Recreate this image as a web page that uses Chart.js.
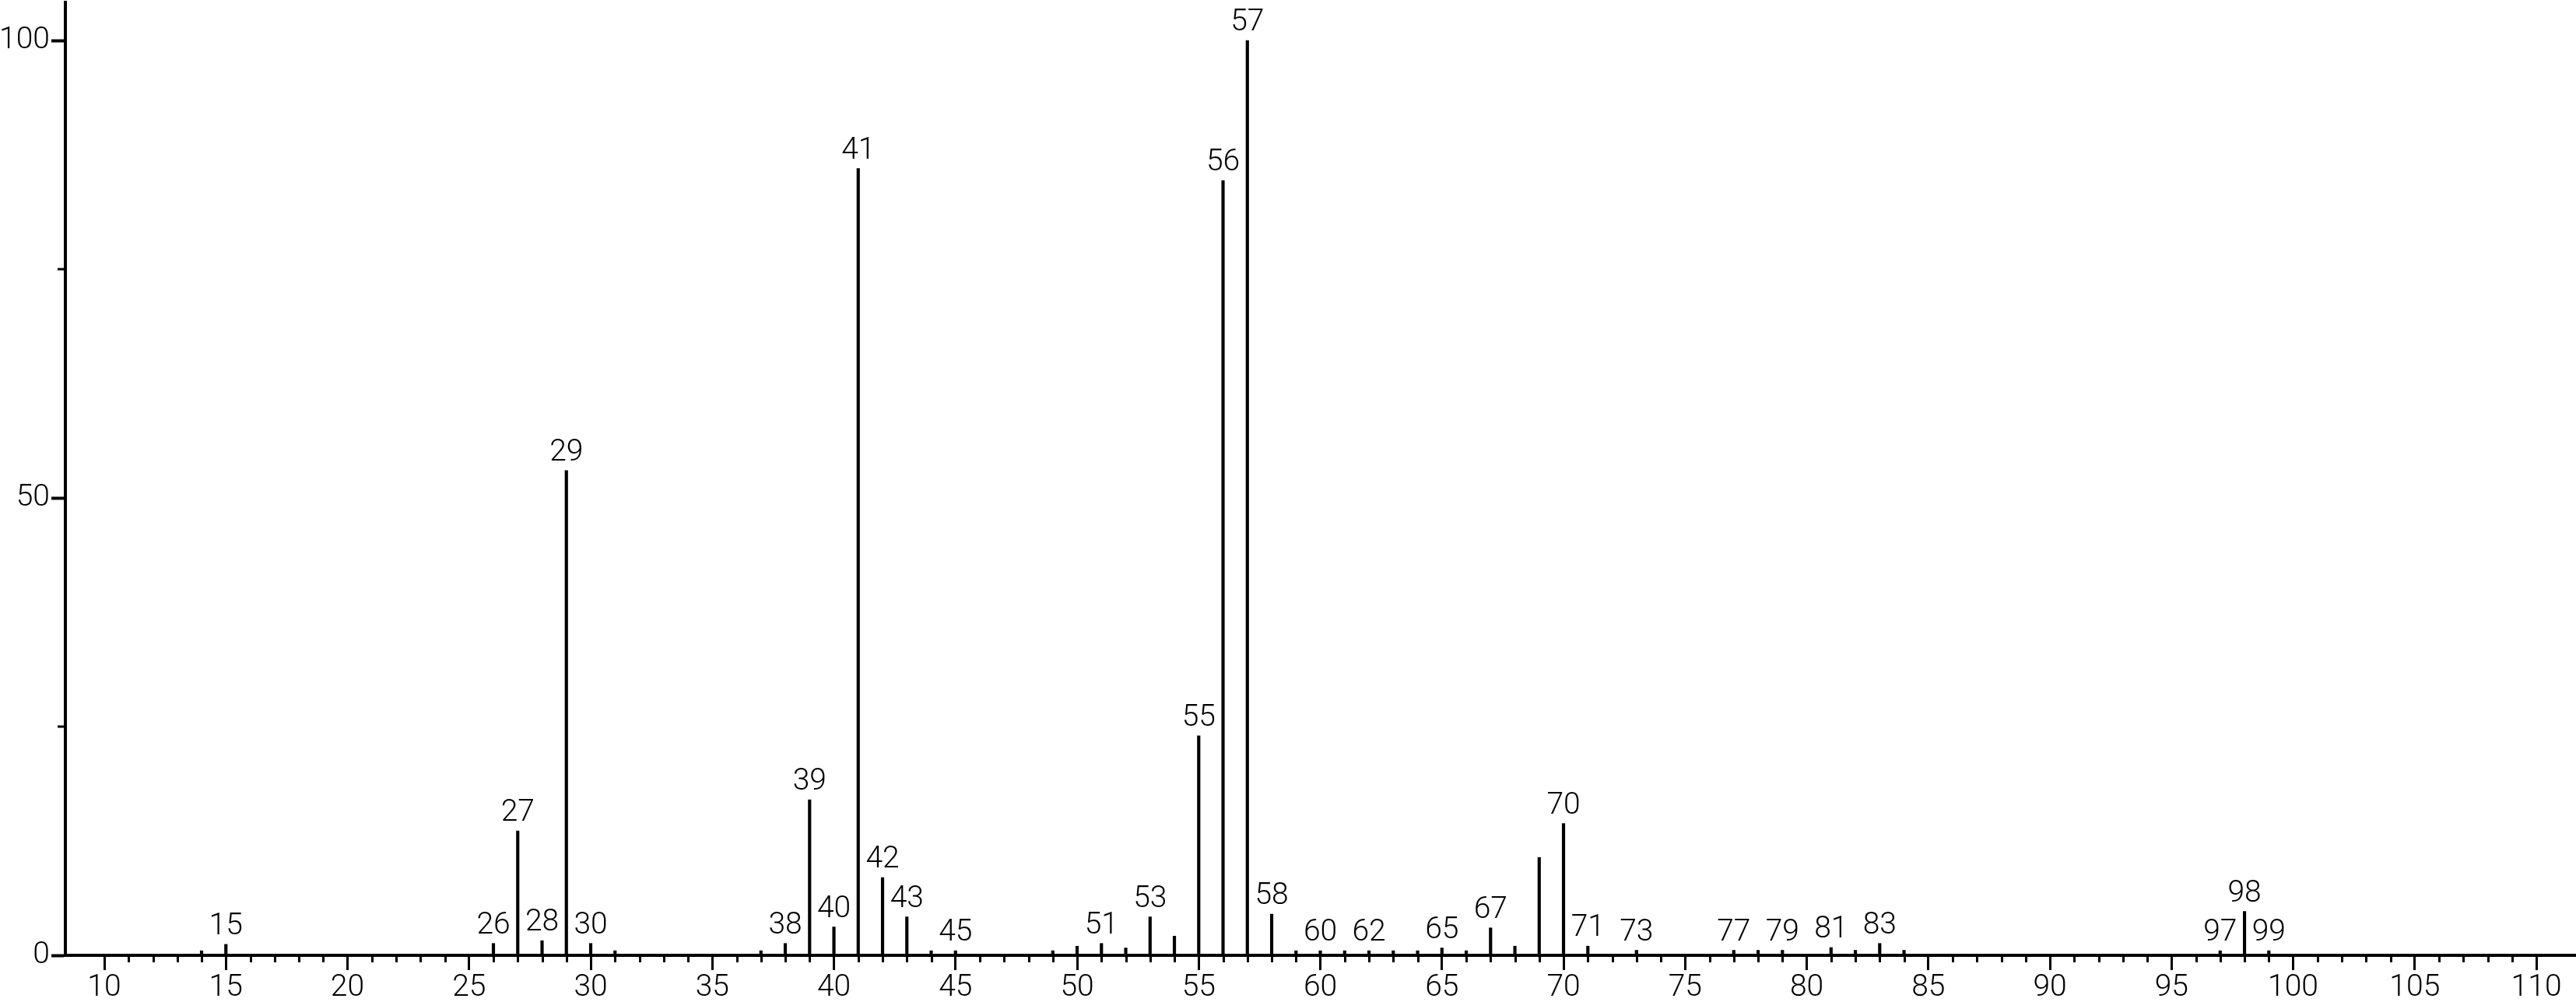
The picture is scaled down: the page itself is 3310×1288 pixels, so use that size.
<!DOCTYPE html>
<html>
<head>
<meta charset="utf-8">
<script src="https://cdn.jsdelivr.net/npm/chart.js@4/dist/chart.umd.min.js"></script>
<style>
  html, body { margin: 0; padding: 0; background: #fff; }
</style>
</head>
<body>
<canvas id="spectrum" width="3310" height="1288"></canvas>
<script>
// m/z positions and relative intensities
const mz = [14, 15, 26, 27, 28, 29, 30, 31, 37, 38, 39, 40, 41, 42, 43, 44, 45,
  49, 50, 51, 52, 53, 54, 55, 56, 57, 58, 59, 60, 61, 62, 63, 64, 65, 66, 67,
  68, 69, 70, 71, 73, 77, 78, 79, 81, 82, 83, 84, 97, 98, 99];
const intensity = [0.5, 1.2, 1.3, 13.6, 1.6, 53.0, 1.3, 0.5, 0.5, 1.3, 17.0, 3.1, 86.0, 8.5, 4.2, 0.5, 0.5,
  0.5, 1.0, 1.3, 0.8, 4.2, 2.1, 24.0, 84.7, 100, 4.5, 0.5, 0.5, 0.5, 0.5, 0.5, 0.5, 0.8, 0.5, 3.0,
  1.0, 10.7, 14.4, 1.0, 0.55, 0.55, 0.55, 0.55, 0.85, 0.55, 1.3, 0.55, 0.5, 4.8, 0.5];
// peaks that carry their m/z as a label
const peakLabels = [15, 26, 27, 28, 29, 30, 38, 39, 40, 41, 42, 43, 45, 51, 53, 55, 56, 57, 58,
  60, 62, 65, 67, 70, 71, 73, 77, 79, 81, 83, 97, 98, 99];
const xTicks = [10, 15, 20, 25, 30, 35, 40, 45, 50, 55, 60, 65, 70, 75, 80, 85, 90, 95, 100, 105, 110];
const yTicks = [0, 50, 100];
const yMinorTicks = [25, 75];

const FONT = 'Roboto, "Liberation Sans", sans-serif';

const extras = {
  id: 'extras',
  afterDraw(chart) {
    const ctx = chart.ctx;
    const xs = chart.scales.x, ys = chart.scales.y;
    const y0 = ys.getPixelForValue(0);
    ctx.save();
    ctx.strokeStyle = '#000';
    ctx.lineWidth = 3;
    ctx.beginPath();
    // minor ticks every unit on the m/z axis
    for (let v = xTicks[0]; v <= xTicks[xTicks.length - 1]; v++) {
      if (xTicks.includes(v)) continue;
      const px = Math.round(xs.getPixelForValue(v)) + 0.5;
      ctx.moveTo(px, y0);
      ctx.lineTo(px, y0 + 9);
    }
    yMinorTicks.forEach(v => {
      const py = ys.getPixelForValue(v);
      ctx.moveTo(xs.left - 10, py);
      ctx.lineTo(xs.left, py);
    });
    ctx.stroke();

    ctx.fillStyle = '#000';
    ctx.font = '300 39px ' + FONT;
    ctx.textAlign = 'center';
    ctx.textBaseline = 'alphabetic';
    peakLabels.forEach(m => {
      const i = mz.indexOf(m);
      ctx.fillText(String(m), xs.getPixelForValue(m), ys.getPixelForValue(intensity[i]) - 13);
    });
    ctx.restore();
  }
};

new Chart(document.getElementById('spectrum'), {
  type: 'bar',
  data: {
    datasets: [{
      data: mz.map((m, i) => ({ x: m, y: intensity[i] })),
      backgroundColor: '#000',
      borderWidth: 0,
      barThickness: 3.5
    }]
  },
  options: {
    responsive: false,
    animation: false,
    layout: { padding: { top: 3, left: 0, right: 0, bottom: 0 } },
    plugins: { legend: { display: false }, tooltip: { enabled: false } },
    scales: {
      x: {
        type: 'linear',
        min: 8.4,
        max: 111.63,
        offset: false,
        afterBuildTicks: s => { s.ticks = xTicks.map(v => ({ value: v })); },
        afterFit: s => { s.height = 60; s.paddingLeft = 0; s.paddingRight = 0; },
        grid: { offset: false, drawOnChartArea: false, tickLength: 19, tickWidth: 3, tickColor: '#000' },
        border: { color: '#000', width: 4 },
        ticks: { color: '#000', font: { family: FONT, size: 39, weight: 300 }, padding: 0, maxRotation: 0, autoSkip: false }
      },
      y: {
        min: 0,
        max: 104.17,
        afterBuildTicks: s => { s.ticks = yTicks.map(v => ({ value: v })); },
        afterFit: s => { s.width = 84; s.paddingTop = 0; s.paddingBottom = 0; },
        grid: { drawOnChartArea: false, tickLength: 18, tickWidth: 4, tickColor: '#000' },
        border: { color: '#000', width: 4 },
        ticks: { color: '#000', font: { family: FONT, size: 39, weight: 300 }, padding: 2 }
      }
    }
  },
  plugins: [extras]
});
</script>
</body>
</html>
